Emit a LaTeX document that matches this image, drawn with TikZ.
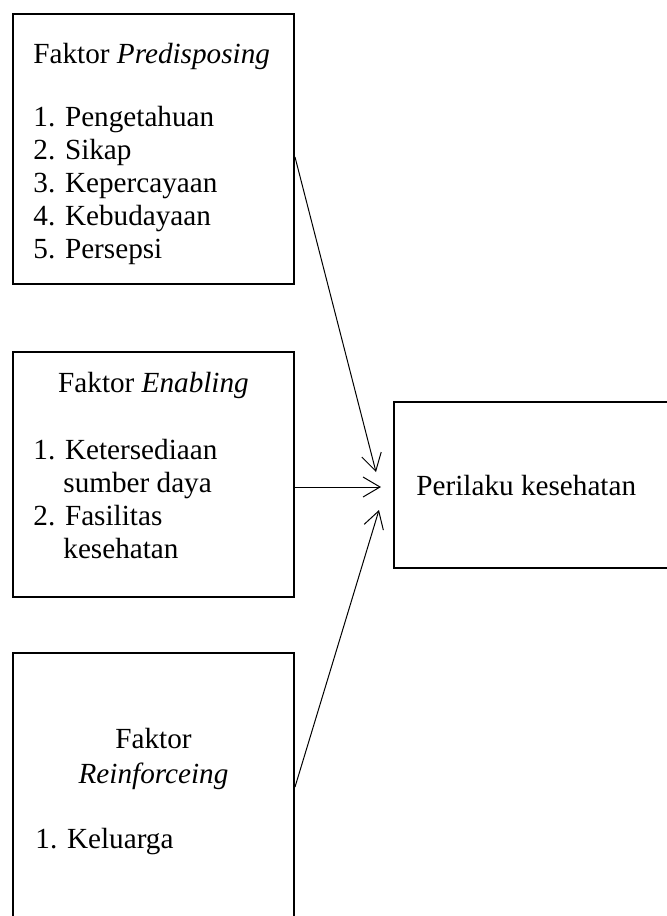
\documentclass[tikz,border=0pt]{standalone}
\usepackage{fontspec}
\setmainfont{Liberation Serif}
\usetikzlibrary{arrows.meta, positioning}

\begin{document}
\begin{tikzpicture}[x=0.5pt, y=-0.5pt,
    factorbox/.style={draw=black, line width=1pt, minimum width=140.5pt, inner sep=0pt},
    boxtext/.style={font=\fontsize{14.6}{16.5}\selectfont, inner sep=0pt},
    arr/.style={-{Straight Barb[length=8.5pt, width=10pt]}, line width=0.5pt}
  ]
    \useasboundingbox (0,0) rectangle (667,916);
    % the three factor boxes and the outcome box
    \node[factorbox, minimum height=135pt] (pred) at (153.5,149) {};
    \node[factorbox, minimum height=122.5pt] (enab) at (153.5,474.5) {};
    \node[factorbox, minimum height=138.5pt] (reinf) at (153.5,791.5) {};
    \node[factorbox, minimum width=143pt, minimum height=83pt] (beh) at (537,485) {};
    % box texts (base = last line)
    \node[boxtext, align=left, anchor=base west] (predtxt) at (33,258) {%
      Faktor \textit{Predisposing}\\[15pt]
      1. Pengetahuan\\
      2. Sikap\\
      3. Kepercayaan\\
      4. Kebudayaan\\
      5. Persepsi};
    \node[boxtext, anchor=base] (enabtitle) at (153.5,392) {Faktor \textit{Enabling}};
    \node[boxtext, align=left, anchor=base west] (enablist) at (33,558) {%
      1. Ketersediaan\\
      \hspace*{15pt}sumber daya\\
      2. Fasilitas\\
      \hspace*{15pt}kesehatan};
    \node[boxtext, align=center, anchor=base] (reinftitle) at (153.5,783) {%
      Faktor\\[1pt]
      \textit{Reinforceing}};
    \node[boxtext, anchor=base west] (reinflist) at (35,848) {1. Keluarga};
    \node[boxtext, anchor=base west] (behtxt) at (416,495) {Perilaku kesehatan};
    % arrows into the outcome box
    \draw[arr] ([yshift=-4pt]pred.east) -- ([xshift=-8.5pt, yshift=6.5pt]beh.west);
    \draw[arr] ([yshift=-6.25pt]enab.east) -- ([xshift=-6pt, yshift=-1pt]beh.west);
    \draw[arr] ([yshift=2.25pt]reinf.east) -- ([xshift=-7pt, yshift=-12.5pt]beh.west);
\end{tikzpicture}
\end{document}
